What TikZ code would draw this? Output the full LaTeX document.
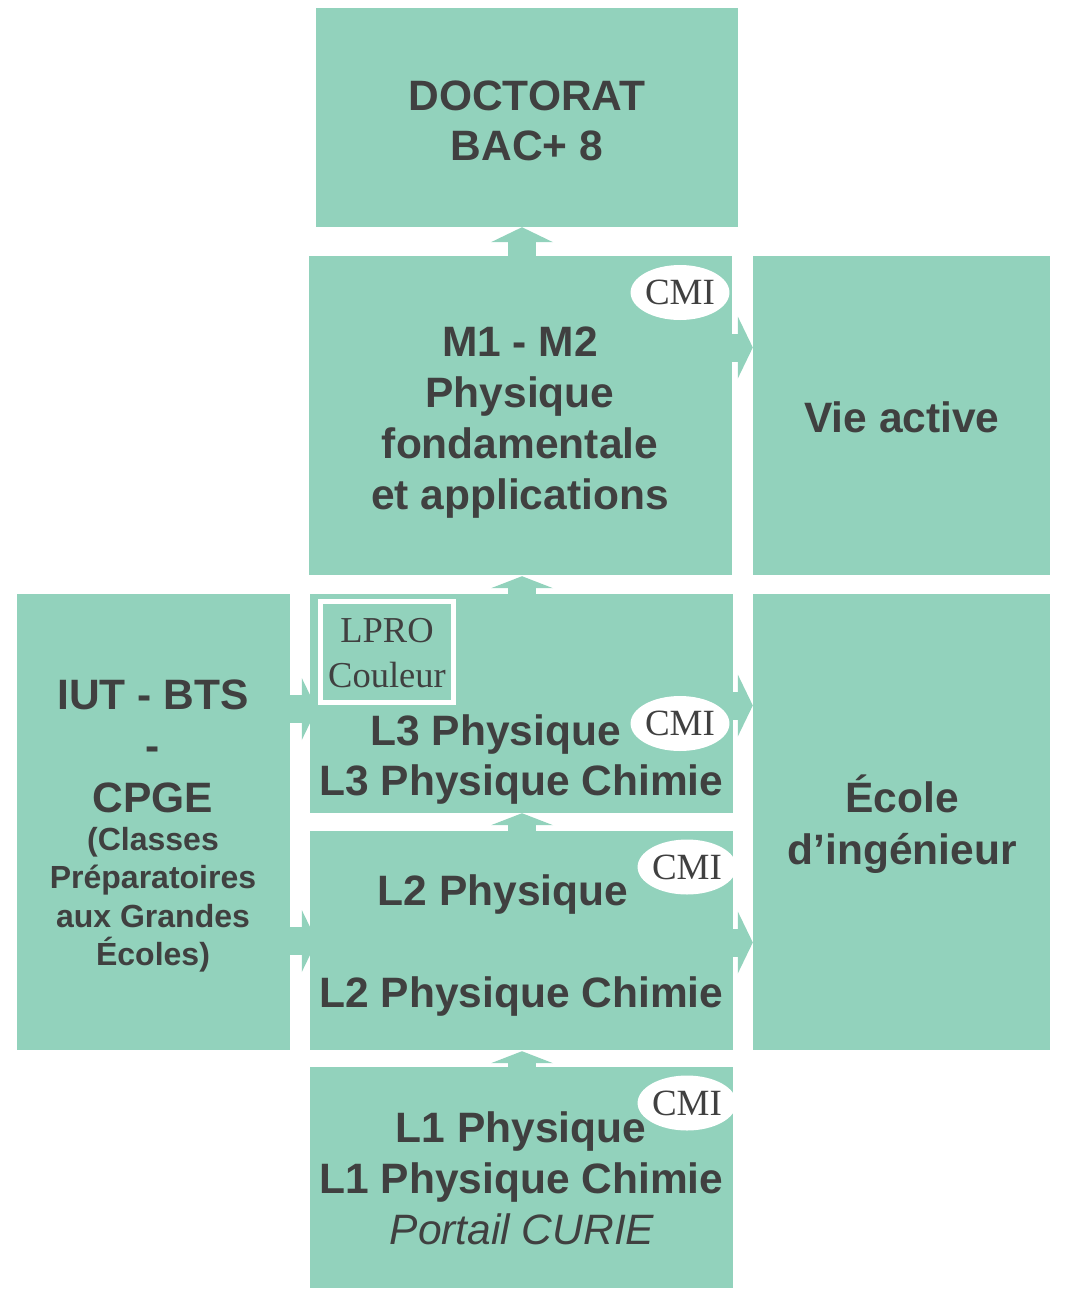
\documentclass[tikz,border=0pt]{standalone}
\usepackage{fontspec}
\setmainfont{Liberation Sans}
\newfontfamily\timesf{Liberation Serif}
\usetikzlibrary{arrows.meta}
\definecolor{boxc}{HTML}{92D2BC}
\definecolor{txtc}{HTML}{404040}
\tikzset{
  box/.style={fill=boxc, draw=none, inner sep=0pt, anchor=center},
  big/.style={anchor=base, inner sep=0pt, text=txtc, font=\fontsize{42.5}{50}\selectfont\bfseries},
  mid/.style={anchor=base, inner sep=0pt, text=txtc, font=\fontsize{32}{38}\selectfont\bfseries},
  cmi/.style={ellipse, fill=white, minimum width=86pt, minimum height=55pt, inner sep=0pt, text=txtc, font=\fontsize{37}{40}\selectfont\timesf},
  lp/.style={anchor=base, inner sep=0pt, text=txtc, font=\fontsize{36.5}{40}\selectfont\timesf},
  blockarr/.style={draw=boxc, line width=28pt, -{Triangle[width=62pt,length=15pt,line width=0pt]}},
  shortarr/.style={blockarr, -{Triangle[width=62pt,length=12pt,line width=0pt]}},
}
\usetikzlibrary{shapes.geometric}
\begin{document}
\begin{tikzpicture}[x=1pt,y=-1pt]
\useasboundingbox (0,0) rectangle (1065,1294);
% boxes
\node[box, minimum width=422pt, minimum height=219pt] (doc) at (527,117.5) {};
\node[box, minimum width=423pt, minimum height=319pt] (m1) at (520.5,415.5) {};
\node[box, minimum width=297pt, minimum height=319pt] (vie) at (901.5,415.5) {};
\node[box, minimum width=423pt, minimum height=219pt] (l3) at (521.5,703.5) {};
\node[box, minimum width=273pt, minimum height=456pt] (iut) at (153.5,822) {};
\node[box, minimum width=297pt, minimum height=456pt] (ecole) at (901.5,822) {};
\node[box, minimum width=423pt, minimum height=219pt] (l2) at (521.5,940.5) {};
\node[box, minimum width=423pt, minimum height=221pt] (l1) at (521.5,1177.5) {};
% arrow guide coordinates
\coordinate (ax) at (522,0);
\coordinate (ya) at (0,347.5);
\coordinate (yb) at (0,705.5);
\coordinate (yc) at (0,942.5);
\coordinate (yd) at (0,709);
\coordinate (ye) at (0,941);
% vertical arrows
\draw[blockarr] (m1.north -| ax) -- (doc.south -| ax);
\draw[shortarr] (l3.north -| ax) -- ([yshift=-1pt]m1.south -| ax);
\draw[shortarr] (l2.north -| ax) -- (l3.south -| ax);
\draw[shortarr] (l1.north -| ax) -- ([yshift=-1pt]l2.south -| ax);
% horizontal arrows
\draw[blockarr] (m1.east |- ya) -- (vie.west |- ya);
\draw[blockarr] (l3.east |- yb) -- (ecole.west |- yb);
\draw[blockarr] (l2.east |- yc) -- (ecole.west |- yc);
\draw[blockarr] (iut.east |- yd) -- ([xshift=7pt]l3.west |- yd);
\draw[blockarr] (iut.east |- ye) -- ([xshift=7pt]l2.west |- ye);
% texts
\node[big] (t1) at (527,110) {DOCTORAT};
\node[big] (t2) at (527,160) {BAC+ 8};
\node[big] (t3) at (520,356) {M1 - M2};
\node[big] (t4) at (520,407) {Physique};
\node[big] (t5) at (520,458) {fondamentale};
\node[big] (t6) at (520,509) {et applications};
\node[big] (t7) at (902,432) {Vie active};
\node[big] (t8) at (495.5,745) {L3 Physique};
\node[big] (t9) at (521.5,795) {L3 Physique Chimie};
\node[big] (t10) at (503,905) {L2 Physique};
\node[big] (t11) at (521.5,1007) {L2 Physique Chimie};
\node[big] (t12) at (521,1142) {L1 Physique};
\node[big] (t13) at (521.5,1193) {L1 Physique Chimie};
\node[big, font=\fontsize{42.5}{50}\selectfont\itshape] (t14) at (522,1244) {Portail CURIE};
\node[big] (t15) at (153,709) {IUT - BTS};
\node[big] (t16) at (153,760) {-};
\node[big] (t17) at (153,812) {CPGE};
\node[mid] (t18) at (153,850) {(Classes};
\node[mid] (t19) at (153,888) {Préparatoires};
\node[mid] (t20) at (153,927) {aux Grandes};
\node[mid] (t21) at (153,965) {Écoles)};
\node[big] (t22) at (902,812) {École};
\node[big] (t23) at (902,864) {d’ingénieur};
% LPRO box
\node[draw=white, line width=5pt, minimum width=133pt, minimum height=101pt, inner sep=0pt] (lpro) at (387,652) {};
\node[lp] (lp1) at (387,642) {LPRO};
\node[lp] (lp2) at (387,687) {Couleur};
% CMI ellipses
\node[cmi] (c1) at (680,292.5) {CMI};
\node[cmi] (c2) at (680,723.5) {CMI};
\node[cmi] (c3) at (687,867) {CMI};
\node[cmi] (c4) at (687,1103) {CMI};
\end{tikzpicture}
\end{document}
